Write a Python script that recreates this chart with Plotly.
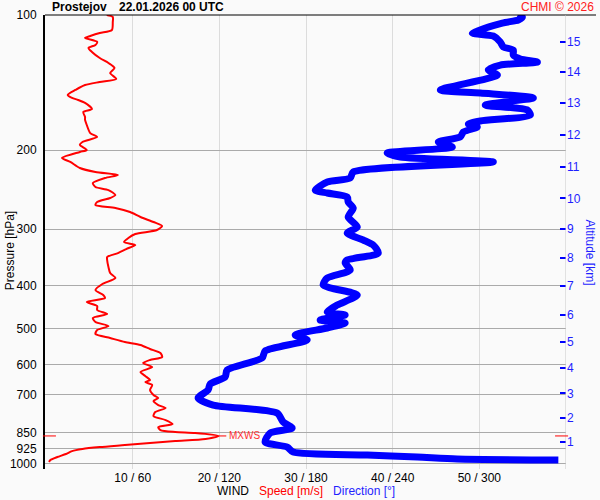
import math
import plotly.graph_objects as go

# ---------------- DATA ----------------

# wind speed profile (pressure hPa -> speed m/s)
speed_p = [100.0, 101.0, 103.7, 108.0, 109.7, 111.4, 112.5, 114.8, 116.6, 118.4,
           120.9, 124.7, 127.9, 131.2, 134.6, 138.8, 141.0, 143.2, 146.9, 150.7,
           153.0, 154.6, 157.0, 162.0, 164.4, 168.7, 171.3, 175.8, 183.2, 186.9,
           191.8, 194.7, 199.8, 201.9, 208.2, 212.5, 219.2, 223.7, 227.2, 230.7,
           236.7, 241.6, 245.4, 251.7, 255.6, 260.9, 265.0, 269.1, 274.7, 281.8,
           289.1, 295.1, 301.2, 307.5, 313.9, 320.4, 325.3, 332.1, 339.0, 345.9,
           351.3, 364.1, 375.5, 385.3, 397.3, 409.8, 420.4, 426.9, 435.8, 444.8,
           454.0, 463.4, 473.0, 482.8, 492.9, 503.1, 513.5, 524.1, 534.9, 543.3,
           554.5, 566.0, 577.7, 586.7, 595.8, 608.1, 624.0, 636.8, 650.1, 656.8,
           667.0, 684.3, 702.1, 713.0, 724.1, 739.1, 750.6, 766.2, 782.0, 798.2,
           814.7, 827.4, 840.2, 848.9, 853.0, 866.0, 880.0, 889.0, 898.0, 907.5,
           917.0, 926.0, 936.0, 950.0, 965.0, 980.0, 990.0]
speed = [7.0, 7.7, 7.7, 7.6, 6.2, 5.1, 4.5, 5.9, 5.7, 4.9,
         5.3, 6.2, 7.2, 7.9, 7.4, 8.1, 6.2, 4.5, 3.4, 2.5,
         3.0, 3.7, 4.5, 5.3, 4.3, 4.5, 4.5, 4.7, 5.1, 5.9,
         4.2, 3.9, 4.7, 3.9, 1.85, 2.8, 3.9, 5.7, 8.3, 6.8,
         5.4, 5.7, 7.2, 8.0, 7.4, 5.9, 5.7, 8.0, 9.7, 10.9,
         12.4, 13.4, 12.8, 10.3, 9.5, 9.0, 10.3, 9.25, 8.3, 7.05,
         7.05, 7.2, 7.4, 8.0, 6.5, 5.7, 6.6, 6.8, 4.7, 5.9,
         5.9, 7.05, 5.4, 5.7, 7.2, 5.9, 5.7, 7.4, 9.1, 10.9,
         12.0, 13.2, 13.4, 12.0, 11.2, 12.25, 10.9, 11.45, 12.0, 11.45,
         12.25, 12.0, 12.4, 12.95, 12.4, 12.95, 13.8, 12.6, 12.4, 13.8,
         14.6, 12.95, 13.2, 14.9, 17.2, 19.9, 18.4, 14.9, 12.0, 9.1,
         6.2, 4.2, 3.0, 2.3, 1.3, 0.5, 0.35]

# wind direction profile (pressure hPa -> direction deg)
dir_p = [99.5, 101.0, 102.6, 104.2, 109.7, 111.4, 114.8, 117.8, 119.7, 122.8,
         125.3, 127.3, 129.3, 132.6, 136.0, 146.9, 149.2, 153.0, 158.7, 162.8,
         167.0, 172.2, 174.9, 177.6, 182.2, 186.9, 191.8, 196.8, 202.9, 207.1,
         212.5, 223.7, 230.7, 235.5, 245.4, 249.1, 254.3, 260.9, 269.1, 281.8,
         296.6, 305.9, 317.0, 325.3, 339.0, 351.3, 356.7, 369.8, 385.3, 399.4,
         420.4, 442.6, 458.7, 465.8, 477.9, 485.3, 497.9, 516.1, 529.5, 560.2,
         580.6, 617.5, 640.1, 663.5, 684.3, 713.0, 739.1, 770.1, 806.4, 831.6,
         853.1, 893.6, 916.8, 940.6, 955.0, 964.7, 974.8, 979.7]
direction = [327.0, 329.8, 327.0, 315.9, 295.1, 309.7, 314.5, 316.6, 323.5, 323.5,
             328.4, 340.2, 314.5, 306.2, 312.5, 273.0, 300.7, 337.4, 304.1, 333.2,
             335.3, 300.7, 292.4, 298.6, 288.9, 286.8, 271.6, 281.3, 236.2, 245.3,
             309.7, 212.7, 210.6, 194.7, 186.4, 194.7, 208.5, 209.2, 212.7, 209.2,
             215.5, 208.5, 219.6, 226.5, 230.0, 208.5, 207.1, 210.6, 194.7, 191.9,
             215.5, 201.6, 194.7, 207.1, 189.8, 207.1, 194.7, 172.5, 180.8, 151.7,
             149.6, 125.4, 124.0, 113.6, 112.2, 105.3, 115.7, 160.0, 164.2, 170.4,
             155.2, 151.7, 167.0, 171.1, 222.4, 257.0, 284.7, 354.7]

pressure_ticks = [100, 200, 300, 400, 500, 600, 700, 850, 925, 1000]
speed_ticks = [10, 20, 30, 40, 50]
wind_tick_labels = ["10 / 60", "20 / 120", "30 / 180", "40 / 240", "50 / 300"]

# altitude scale on the right (km -> pressure level)
alt_km = [1, 2, 3, 4, 5, 6, 7, 8, 9, 10, 11, 12, 13, 14, 15]
alt_p = [892, 788, 696, 610, 534, 466, 401, 347, 300, 256, 218, 185, 157, 134, 115]

# ---------------- FIGURE ----------------

FONT = "Arial, Liberation Sans, sans-serif"
P_RANGE = [math.log10(1026), 2]
X_RANGE = [-0.12, 60]

i_max = max(range(len(speed)), key=lambda i: speed[i])
mxws_v, mxws_p = speed[i_max], speed_p[i_max]

fig = go.Figure()
fig.add_trace(go.Scatter(x=speed, y=speed_p, mode="lines",
                         line=dict(color="#FF0000", width=2, shape="spline", smoothing=0.7),
                         xaxis="x", yaxis="y", hoverinfo="skip"))
fig.add_trace(go.Scatter(x=direction, y=dir_p, mode="lines",
                         line=dict(color="#0000FF", width=7, shape="spline", smoothing=0.7),
                         xaxis="x2", yaxis="y2", hoverinfo="skip"))

fig.update_layout(
    width=600, height=500,
    margin=dict(l=45, r=34, t=15, b=31),
    paper_bgcolor="#FAFAFA",
    plot_bgcolor="#FAFAFA",
    showlegend=False,
    font=dict(family=FONT, size=12, color="black"),
    xaxis=dict(range=X_RANGE, tickvals=speed_ticks, ticktext=wind_tick_labels,
               showgrid=True, gridcolor="#DCDCDC", gridwidth=1,
               zeroline=False, showline=False, ticks="", automargin=False),
    xaxis2=dict(range=[v * 6 for v in X_RANGE], overlaying="x", visible=False),
    yaxis=dict(type="log", range=P_RANGE, tickvals=pressure_ticks,
               ticktext=[str(p) for p in pressure_ticks],
               showgrid=True, gridcolor="#AAAAAA", gridwidth=1,
               zeroline=False, showline=True, linecolor="black", linewidth=2,
               ticks="outside", ticklen=4, tickcolor="rgba(0,0,0,0)", automargin=False),
    yaxis2=dict(type="log", range=P_RANGE, overlaying="y", side="right", anchor="x",
                tickvals=alt_p, ticktext=[str(k) for k in alt_km],
                tickfont=dict(color="#1F1FFF", size=12),
                ticks="inside", ticklen=6, tickwidth=2, tickcolor="#0000FF",
                showgrid=False, zeroline=False, showline=False, automargin=False),
)

# frame bits
fig.add_shape(type="line", xref="paper", yref="paper", x0=0, x1=1.0576, y0=1, y1=1,
              line=dict(color="black", width=1))
fig.add_shape(type="line", xref="x", yref="paper", x0=60, x1=60, y0=0, y1=1,
              line=dict(color="#C8C8C8", width=1))

# max wind marks
fig.add_shape(type="line", xref="paper", yref="y", x0=-0.004, x1=0.021, y0=mxws_p, y1=mxws_p,
              line=dict(color="#FF0000", width=1))
fig.add_shape(type="line", xref="paper", yref="y", x0=0.979, x1=1.004, y0=mxws_p, y1=mxws_p,
              line=dict(color="#FF0000", width=1))
fig.add_shape(type="line", xref="x", yref="y", x0=mxws_v, x1=mxws_v + 0.9, y0=mxws_p, y1=mxws_p,
              line=dict(color="#FF0000", width=1))
fig.add_annotation(x=mxws_v + 1.0, y=math.log10(mxws_p), xref="x", yref="y",
                   text="MXWS", showarrow=False, xanchor="left", yanchor="middle",
                   font=dict(color="#FF3030", size=10))

# texts
fig.add_annotation(x=0.0096, y=1.0176, xref="paper", yref="paper", text="<b>Prostejov</b>",
                   showarrow=False, xanchor="left", yanchor="middle", font=dict(size=12))
fig.add_annotation(x=0.138, y=1.0176, xref="paper", yref="paper", text="<b>22.01.2026 00 UTC</b>",
                   showarrow=False, xanchor="left", yanchor="middle", font=dict(size=12))
fig.add_annotation(x=1.0576, y=1.0176, xref="paper", yref="paper", text="CHMI © 2026",
                   showarrow=False, xanchor="right", yanchor="middle",
                   font=dict(size=12, color="#FF2020"))
fig.add_annotation(x=-0.067, y=0.48, xref="paper", yref="paper", text="Pressure [hPa]",
                   textangle=-90, showarrow=False, xanchor="center", yanchor="middle",
                   font=dict(size=12))
fig.add_annotation(x=1.046, y=0.477, xref="paper", yref="paper", text="Altitude [km]",
                   textangle=90, showarrow=False, xanchor="center", yanchor="middle",
                   font=dict(size=12, color="#1F1FFF"))
fig.add_annotation(x=0.5, y=-0.048, xref="paper", yref="paper",
                   text="WIND&nbsp;&nbsp;&nbsp;<span style='color:#FF0000'>Speed [m/s]</span>"
                        "&nbsp;&nbsp;&nbsp;<span style='color:#1F1FFF'>Direction [°]</span>",
                   showarrow=False, xanchor="center", yanchor="middle", font=dict(size=12))

# drop the default page margin so the 600x500 figure sits at the window corner
fig.write_html("out.html", config={"displayModeBar": False},
               post_script="document.body.style.margin='0';")
